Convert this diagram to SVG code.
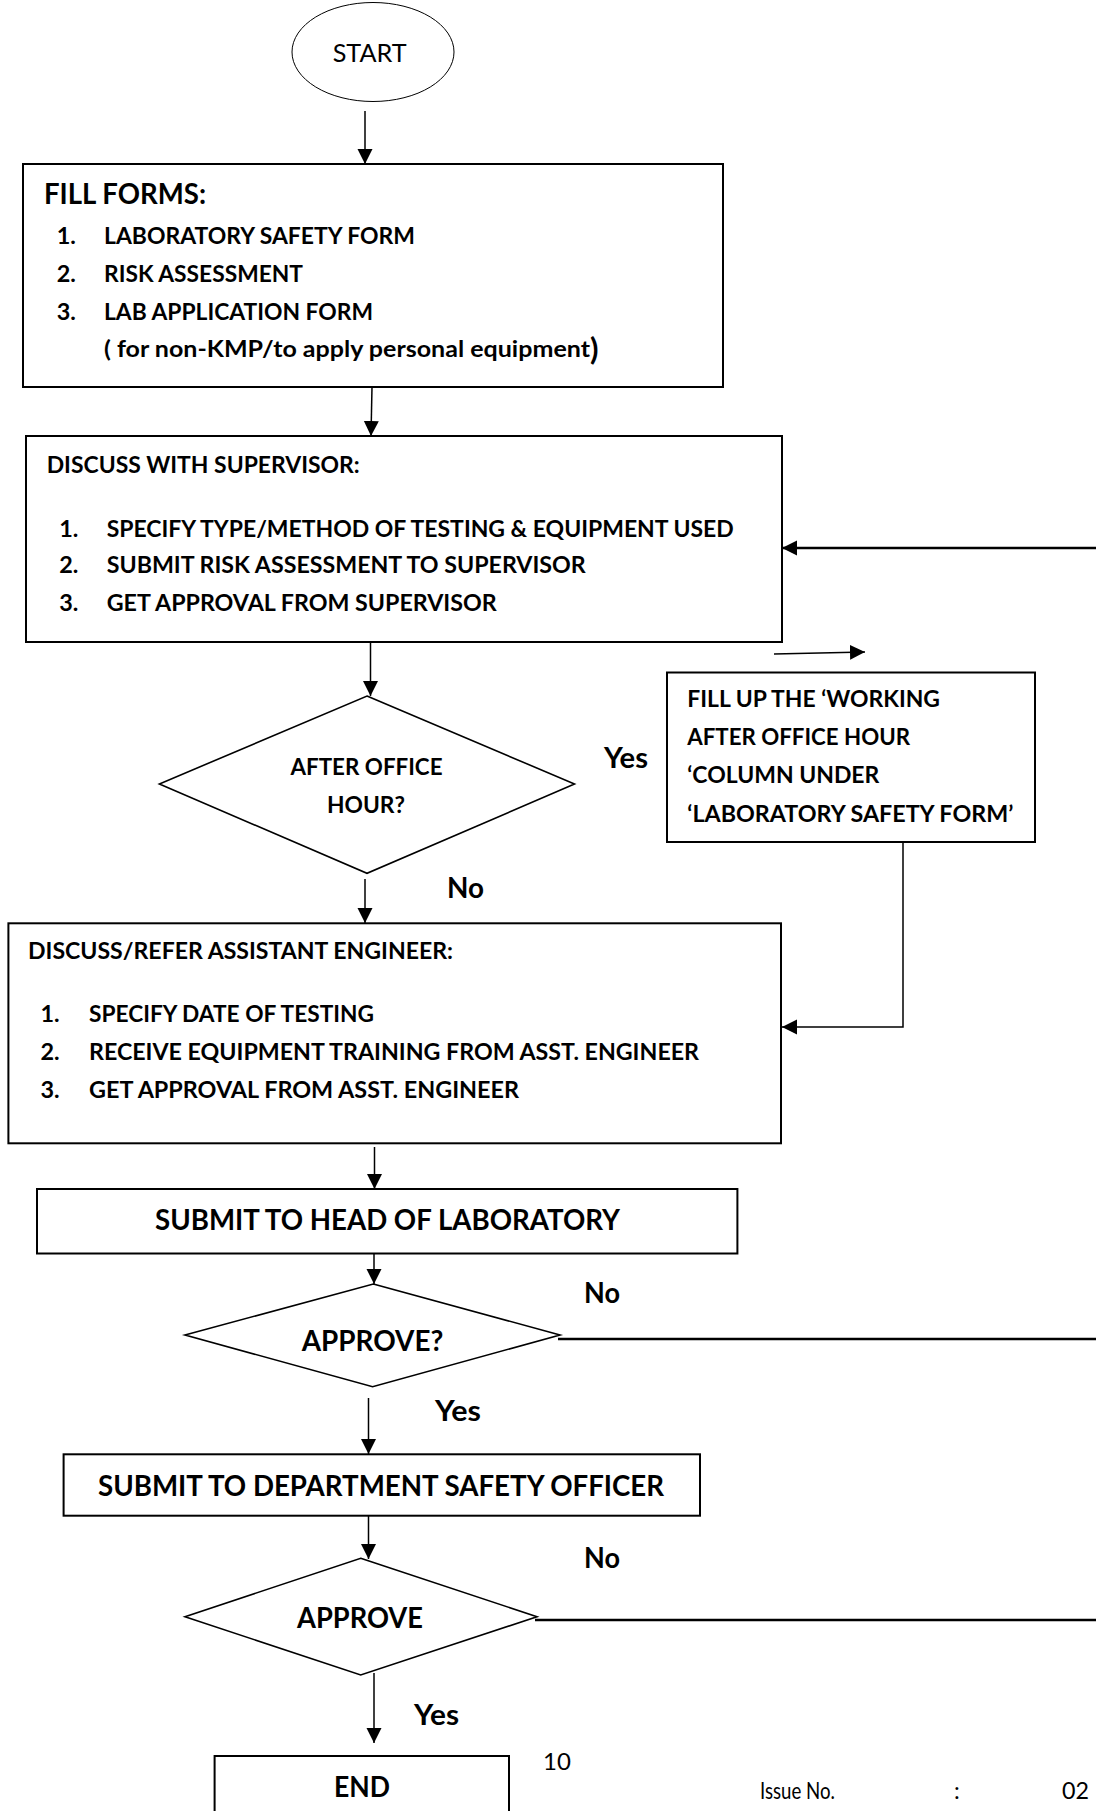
<svg xmlns="http://www.w3.org/2000/svg" width="1096" height="1811" viewBox="0 0 1096 1811">
<style>
.box{fill:#fff;stroke:#000;stroke-width:2}
.dia{fill:#fff;stroke:#000;stroke-width:1.6}
.ell{fill:#fff;stroke:#000;stroke-width:1}
.con{fill:none;stroke:#000;stroke-width:1.5}
.thk{fill:none;stroke:#000;stroke-width:2.3}
text{font-family:Lato,"Liberation Sans",sans-serif;fill:#000}
.b{font-weight:bold;font-size:23.4px}
.bl{font-weight:bold;font-size:28px}
.r{font-weight:normal;font-size:23px}
</style>
<defs>
<marker id="ah" markerUnits="userSpaceOnUse" markerWidth="16" markerHeight="16" refX="15" refY="7.5" orient="auto">
<path d="M0,0 L15,7.5 L0,15 z" fill="#000"/>
</marker>
</defs>
<rect width="1096" height="1811" fill="#fff"/>

<g id="connectors">
<line class="con" x1="365" y1="111" x2="365" y2="164" marker-end="url(#ah)"/>
<line class="con" x1="372" y1="387" x2="371" y2="436" marker-end="url(#ah)"/>
<line class="thk" x1="1096" y1="548" x2="782" y2="548" marker-end="url(#ah)"/>
<line class="con" x1="370.5" y1="642" x2="370.5" y2="696" marker-end="url(#ah)"/>
<line class="con" x1="774" y1="654" x2="865" y2="652" marker-end="url(#ah)"/>
<line class="con" x1="365" y1="879" x2="365" y2="923" marker-end="url(#ah)"/>
<polyline class="con" points="903,842 903,1027 782,1027" marker-end="url(#ah)"/>
<line class="con" x1="374.5" y1="1147" x2="374.5" y2="1189" marker-end="url(#ah)"/>
<line class="con" x1="374" y1="1237" x2="374" y2="1284" marker-end="url(#ah)"/>
<line class="thk" x1="558" y1="1339" x2="1096" y2="1339"/>
<line class="con" x1="368.5" y1="1398" x2="368.5" y2="1454" marker-end="url(#ah)"/>
<line class="con" x1="368.5" y1="1516" x2="368.5" y2="1559" marker-end="url(#ah)"/>
<line class="thk" x1="535" y1="1620" x2="1096" y2="1620"/>
<line class="con" x1="374" y1="1673" x2="374" y2="1743" marker-end="url(#ah)"/>
</g>

<g id="start">
<ellipse class="ell" cx="373" cy="52" rx="81" ry="49.5"/>
<text x="332.7" y="62.3" style="font-size:25.6px" textLength="74" lengthAdjust="spacingAndGlyphs">START</text>
</g>

<g id="fill-forms">
<rect class="box" x="23" y="164" width="700" height="223"/>
<text class="bl" x="44" y="204" textLength="162" lengthAdjust="spacingAndGlyphs">FILL FORMS:</text>
<text class="b" x="56.7" y="243.5">1.</text>
<text class="b" x="104" y="243.5" textLength="311" lengthAdjust="spacingAndGlyphs">LABORATORY SAFETY FORM</text>
<text class="b" x="56.7" y="281.7">2.</text>
<text class="b" x="104" y="281.7" textLength="199" lengthAdjust="spacingAndGlyphs">RISK ASSESSMENT</text>
<text class="b" x="56.7" y="320">3.</text>
<text class="b" x="104" y="320" textLength="269" lengthAdjust="spacingAndGlyphs">LAB APPLICATION FORM</text>
<text class="b" x="104" y="357" textLength="486" lengthAdjust="spacingAndGlyphs">( for non-KMP/to apply personal equipment</text>
<text class="b" x="590" y="360" style="font-size:31px">)</text>
</g>

<g id="discuss-supervisor">
<rect class="box" x="26" y="436" width="756" height="206"/>
<text class="b" x="46.7" y="473" textLength="313" lengthAdjust="spacingAndGlyphs">DISCUSS WITH SUPERVISOR:</text>
<text class="b" x="59.3" y="536.5">1.</text>
<text class="b" x="106.7" y="536.5" textLength="627" lengthAdjust="spacingAndGlyphs">SPECIFY TYPE/METHOD OF TESTING &amp; EQUIPMENT USED</text>
<text class="b" x="59.3" y="573.3">2.</text>
<text class="b" x="106.7" y="573.3" textLength="479" lengthAdjust="spacingAndGlyphs">SUBMIT RISK ASSESSMENT TO SUPERVISOR</text>
<text class="b" x="59.3" y="610.7">3.</text>
<text class="b" x="106.7" y="610.7" textLength="390" lengthAdjust="spacingAndGlyphs">GET APPROVAL FROM SUPERVISOR</text>
</g>

<g id="after-office">
<polygon class="dia" points="367,696 574.5,784 367,873.3 159.4,784"/>
<text class="b" x="290.5" y="775" textLength="152" lengthAdjust="spacingAndGlyphs">AFTER OFFICE</text>
<text class="b" x="327" y="813" textLength="78" lengthAdjust="spacingAndGlyphs">HOUR?</text>
</g>

<g id="fill-up">
<rect class="box" x="667" y="672.5" width="368" height="169.5"/>
<text class="b" x="687.3" y="706.7" textLength="252.7" lengthAdjust="spacingAndGlyphs">FILL UP THE ‘WORKING</text>
<text class="b" x="687.3" y="745" textLength="222.7" lengthAdjust="spacingAndGlyphs">AFTER OFFICE HOUR</text>
<text class="b" x="687.3" y="783.3" textLength="192" lengthAdjust="spacingAndGlyphs">‘COLUMN UNDER</text>
<text class="b" x="687.3" y="821.7" textLength="326" lengthAdjust="spacingAndGlyphs">‘LABORATORY SAFETY FORM’</text>
</g>

<g id="discuss-engineer">
<rect class="box" x="8.4" y="923.3" width="772.6" height="220"/>
<text class="b" x="28" y="959" textLength="425" lengthAdjust="spacingAndGlyphs">DISCUSS/REFER ASSISTANT ENGINEER:</text>
<text class="b" x="40.5" y="1021.7">1.</text>
<text class="b" x="89" y="1021.7" textLength="285" lengthAdjust="spacingAndGlyphs">SPECIFY DATE OF TESTING</text>
<text class="b" x="40.5" y="1060">2.</text>
<text class="b" x="89" y="1060" textLength="610" lengthAdjust="spacingAndGlyphs">RECEIVE EQUIPMENT TRAINING FROM ASST. ENGINEER</text>
<text class="b" x="40.5" y="1097.7">3.</text>
<text class="b" x="89" y="1097.7" textLength="430" lengthAdjust="spacingAndGlyphs">GET APPROVAL FROM ASST. ENGINEER</text>
</g>

<g id="head-lab">
<rect class="box" x="37" y="1189" width="700.4" height="64.5"/>
<text class="bl" x="155" y="1230" textLength="465" lengthAdjust="spacingAndGlyphs">SUBMIT TO HEAD OF LABORATORY</text>
</g>

<g id="approve1">
<polygon class="dia" points="373.3,1284 560,1335 372.6,1386.7 185,1335"/>
<text class="bl" x="301.7" y="1350.7" textLength="141.6" lengthAdjust="spacingAndGlyphs">APPROVE?</text>
</g>

<g id="dept-safety">
<rect class="box" x="63.6" y="1454.3" width="636.4" height="61.4"/>
<text class="bl" x="98" y="1496" textLength="566" lengthAdjust="spacingAndGlyphs">SUBMIT TO DEPARTMENT SAFETY OFFICER</text>
</g>

<g id="approve2">
<polygon class="dia" points="360.7,1558.3 537,1616.7 360.7,1675 185,1616.7"/>
<text class="bl" x="297" y="1627.7" textLength="126" lengthAdjust="spacingAndGlyphs">APPROVE</text>
</g>

<g id="end">
<rect class="box" x="214.6" y="1756" width="294.4" height="80"/>
<text class="bl" x="334" y="1797" textLength="56" lengthAdjust="spacingAndGlyphs">END</text>
</g>

<g id="labels">
<text class="bl" x="604" y="768" textLength="44" lengthAdjust="spacingAndGlyphs">Yes</text>
<text class="bl" x="447" y="898" textLength="37" lengthAdjust="spacingAndGlyphs">No</text>
<text class="bl" x="584" y="1303" textLength="36" lengthAdjust="spacingAndGlyphs">No</text>
<text class="bl" x="435" y="1421" textLength="46" lengthAdjust="spacingAndGlyphs">Yes</text>
<text class="bl" x="584" y="1568" textLength="36" lengthAdjust="spacingAndGlyphs">No</text>
<text class="bl" x="414" y="1725" textLength="45" lengthAdjust="spacingAndGlyphs">Yes</text>
</g>

<g id="footer">
<text class="r" x="543" y="1770" style="font-size:24px">10</text>
<text class="r" x="760" y="1799" textLength="75" lengthAdjust="spacingAndGlyphs">Issue No.</text>
<text class="r" x="954" y="1799">:</text>
<text class="r" x="1062" y="1799" textLength="27" lengthAdjust="spacingAndGlyphs">02</text>
</g>
</svg>
